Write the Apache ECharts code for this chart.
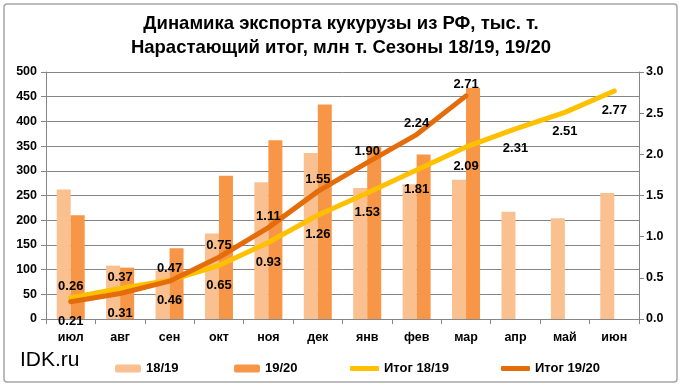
<!DOCTYPE html>
<html><head><meta charset="utf-8">
<script src="https://cdn.jsdelivr.net/npm/echarts@6/dist/echarts.min.js"></script>
<style>html,body{margin:0;padding:0;background:#fff}#c{width:682px;height:389px}</style>
</head><body><div id="c"></div>
<script>
const months = ['июл','авг','сен','окт','ноя','дек','янв','фев','мар','апр','май','июн'];
const exp1819 = [262,108,98,173,277,336,265,273,282,217,204,255];
const exp1920 = [210,104,143,290,362,434,348,333,468,null,null,null];
const cum1819 = [0.26,0.37,0.47,0.65,0.93,1.26,1.53,1.81,2.09,2.31,2.51,2.77];
const cum1920 = [0.21,0.31,0.46,0.75,1.11,1.55,1.90,2.24,2.71,null,null,null];
const leftTicks = {min:0, max:500, interval:50};
const rightTicks = {min:0, max:3, interval:0.5};

const lbl = {color:'#000', fontWeight:'bold', fontSize:13, fontFamily:'Liberation Sans'};
function lineData(vals, other){
  return vals.map((v,i)=>{
    if(v==null) return null;
    const o = other[i];
    const up = o!=null && v>=o;
    return {value:v, label:{position: up?'top':'bottom', distance: up?5:13}};
  });
}
const chart = echarts.init(document.getElementById('c'));
const axisLbl = {color:'#000', fontWeight:'bold', fontSize:12.5, fontFamily:'Liberation Sans'};
const legBase = {top:357, itemHeight:8, itemWidth:26, itemGap:3, textStyle:{color:'#000', fontWeight:'bold', fontSize:13, fontFamily:'Liberation Sans'}};
chart.setOption({
  animation:false,
  backgroundColor:'#fff',
  title:{text:'Динамика экспорта кукурузы из РФ, тыс. т.\nНарастающий итог, млн т. Сезоны 18/19, 19/20',
    left:'center', top:7, textStyle:{color:'#000', fontWeight:'bold', fontSize:18.5, lineHeight:24, fontFamily:'Liberation Sans'}},
  graphic:[
    {type:'rect', shape:{x:4,y:4,width:673,height:378,r:3}, style:{fill:'none', stroke:'#A6A6A6', lineWidth:1.5}, z:-1},
    {type:'text', left:20, top:350, style:{text:'IDK.ru', fill:'#000', fontSize:21, fontFamily:'Liberation Sans'}}
  ],
  legend:[
    Object.assign({}, legBase, {data:['18/19'], left:110}),
    Object.assign({}, legBase, {data:['19/20'], left:229}),
    Object.assign({}, legBase, {data:[{name:'Итог 18/19', icon:'roundRect'}], left:345, itemWidth:29, itemHeight:5}),
    Object.assign({}, legBase, {data:[{name:'Итог 19/20', icon:'roundRect'}], left:496, itemWidth:29, itemHeight:5})
  ],
  grid:{left:46, right:43, top:72, bottom:70},
  xAxis:{type:'category', data:months, boundaryGap:true,
    axisLine:{lineStyle:{color:'#868686'}}, axisTick:{show:true, length:5, lineStyle:{color:'#868686'}},
    axisLabel:Object.assign({margin:12}, axisLbl)},
  yAxis:[
    Object.assign({type:'value', position:'left', axisLine:{show:true, lineStyle:{color:'#868686'}},
      axisTick:{show:true, length:5, lineStyle:{color:'#868686'}},
      splitLine:{lineStyle:{color:'#868686'}}, axisLabel:Object.assign({margin:9}, axisLbl)}, leftTicks),
    Object.assign({type:'value', position:'right', axisLine:{show:true, lineStyle:{color:'#868686'}},
      axisTick:{show:true, length:5, lineStyle:{color:'#868686'}},
      splitLine:{show:false}, axisLabel:Object.assign({margin:7, formatter:v=>v.toFixed(1)}, axisLbl)}, rightTicks)
  ],
  series:[
    {name:'18/19', type:'bar', data:exp1819, barWidth:14, barGap:'0%', itemStyle:{color:'#FAC090'}},
    {name:'19/20', type:'bar', data:exp1920, barWidth:14, barGap:'0%', itemStyle:{color:'#F79646'}},
    {name:'Итог 18/19', type:'line', yAxisIndex:1, data:lineData(cum1819, cum1920), symbol:'circle', symbolSize:0.1, showSymbol:true,
      lineStyle:{color:'#FFC000', width:5, cap:'round'}, itemStyle:{color:'#FFC000'},
      label:Object.assign({show:true, formatter:p=>Number(p.value).toFixed(2)}, lbl)},
    {name:'Итог 19/20', type:'line', yAxisIndex:1, data:lineData(cum1920, cum1819), symbol:'circle', symbolSize:0.1, showSymbol:true,
      lineStyle:{color:'#E46C0A', width:5, cap:'round'}, itemStyle:{color:'#E46C0A'},
      label:Object.assign({show:true, formatter:p=>Number(p.value).toFixed(2)}, lbl)}
  ]
});
</script></body></html>
